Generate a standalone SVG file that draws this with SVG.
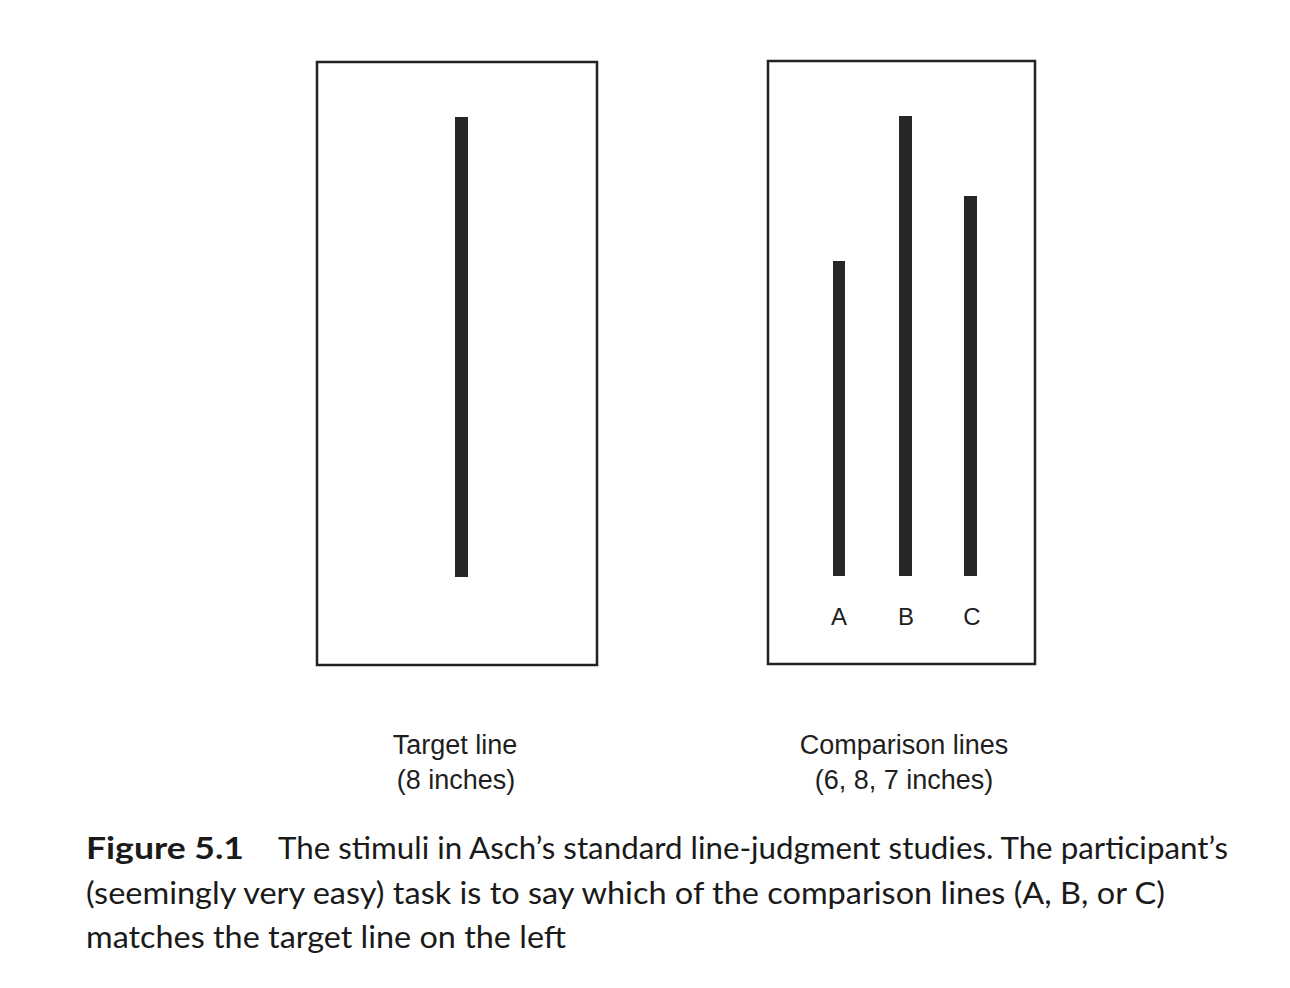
<svg xmlns="http://www.w3.org/2000/svg" width="1290" height="988" viewBox="0 0 1290 988">
<style>
.panel{fill:#fff;stroke:#222;stroke-width:2.5}
.bar{fill:#262626}
.lbl{font-family:"Liberation Sans",Arial,sans-serif;font-size:27px;fill:#1e1e1e;text-anchor:middle}
.abc{font-family:"Liberation Sans",Arial,sans-serif;font-size:24px;fill:#1e1e1e;text-anchor:middle}
.cap{font-family:Lato,"Open Sans",sans-serif;font-size:30px;fill:#1a1a1a}
.capb{font-weight:bold}
</style>
<rect width="1290" height="988" fill="#fff"/>
<g id="target-panel">
<rect class="panel" x="317" y="62" width="280" height="603"/>
<rect class="bar" x="455" y="117" width="13" height="460"/>
</g>
<g id="comparison-panel">
<rect class="panel" x="768" y="61" width="267" height="603"/>
<rect class="bar" x="833" y="261" width="12" height="315"/>
<rect class="bar" x="899" y="116" width="13" height="460"/>
<rect class="bar" x="964" y="196" width="13" height="380"/>
<text class="abc" x="839" y="625">A</text>
<text class="abc" x="906" y="625">B</text>
<text class="abc" x="972" y="625">C</text>
</g>
<g id="target-label">
<text class="lbl" x="455" y="754">Target line</text>
<text class="lbl" x="456" y="789">(8 inches)</text>
</g>
<g id="comparison-label">
<text class="lbl" x="904" y="754">Comparison lines</text>
<text class="lbl" x="904" y="789">(6, 8, 7 inches)</text>
</g>
<g id="caption">
<text class="cap capb" x="86" y="859" textLength="158" lengthAdjust="spacingAndGlyphs">Figure 5.1</text>
<text class="cap" x="278" y="859" textLength="950" lengthAdjust="spacingAndGlyphs">The stimuli in Asch’s standard line-judgment studies. The participant’s</text>
<text class="cap" x="86" y="904" textLength="1079" lengthAdjust="spacingAndGlyphs">(seemingly very easy) task is to say which of the comparison lines (A, B, or C)</text>
<text class="cap" x="86" y="948" textLength="480" lengthAdjust="spacingAndGlyphs">matches the target line on the left</text>
</g>
</svg>
